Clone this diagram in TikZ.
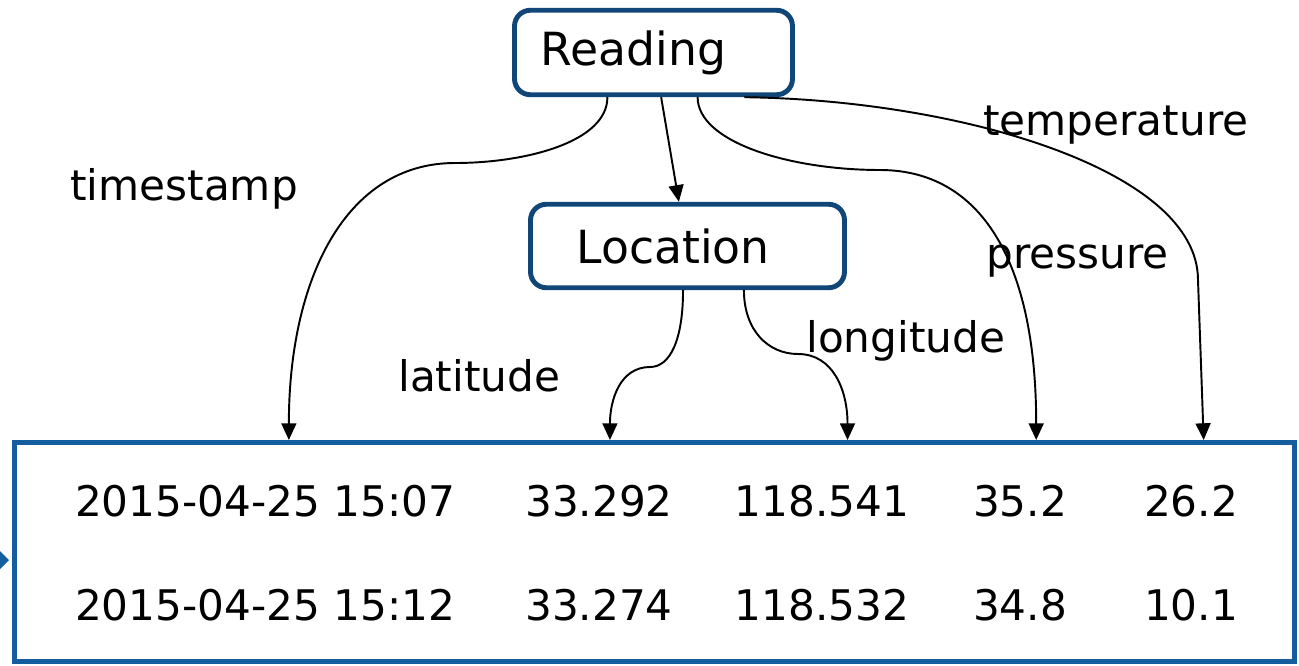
\documentclass[tikz,border=0pt]{standalone}
\usepackage{fontspec}
\setmainfont{DejaVu Sans}
\usetikzlibrary{arrows.meta,calc}
\definecolor{boxblue}{RGB}{16,70,120}
\definecolor{tableblue}{RGB}{20,94,160}
\begin{document}
\begin{tikzpicture}[x=0.02cm,y=-0.02cm,
	entity/.style={draw=boxblue,line width=2.8pt,rounded corners=9pt,align=left,inner ysep=0pt,font=\fontsize{26}{30}\selectfont},
	attr/.style={anchor=base west,inner sep=0pt,font=\fontsize{24}{28}\selectfont},
	val/.style={inner sep=0pt,font=\fontsize{24}{28}\selectfont},
	link/.style={line width=1.1pt,-{Triangle[length=9.5pt,width=8.5pt]}}]
	\useasboundingbox (0,0) rectangle (1299,666);
	% entities
	\node[entity,text width=4.52cm,inner xsep=0.52cm,minimum height=1.69cm] (reading) at (653.5,52.5){Reading};
	\node[entity,text width=4.44cm,inner xsep=0.92cm,minimum height=1.67cm] (location) at (687.5,246){Location};
	\node[draw=tableblue,line width=2.6pt,minimum width=25.6cm,minimum height=4.39cm,inner sep=0] (table) at (654.5,552){};
	\fill[tableblue] (0,551)--(9,560)--(0,569)--cycle;
	% values
	\foreach \x/\a/\b [count=\i] in {265/2015-04-25 15:07/2015-04-25 15:12,599/33.292/33.274,822/118.541/118.532,1020/35.2/34.8,1191/26.2/10.1}{
		\node[val] (a\i) at (\x,501){\a};
		\node[val] (b\i) at (\x,605){\b};
	}
	% attribute names
	\node[attr] (ts) at (70,200){timestamp};
	\node[attr] (lat) at (398,391){latitude};
	\node[attr] (lon) at (806,352){longitude};
	\node[attr] (pr) at (986,268){pressure};
	\node[attr] (tp) at (983,135){temperature};
	% arrow ends
	\coordinate (e1) at ($(table.north west)!0.2153!(table.north east)$);
	\coordinate (e2) at ($(table.north west)!0.4653!(table.north east)$);
	\coordinate (e3) at ($(table.north west)!0.6503!(table.north east)$);
	\coordinate (e4) at ($(table.north west)!0.7972!(table.north east)$);
	\coordinate (e5) at ($(table.north west)!0.9276!(table.north east)$);
	\draw[link] ($(reading.south west)!0.337!(reading.south east)$) .. controls +(0,45) and +(70,0) .. (455,163) .. controls +(-110,0) and +(0,-160) .. (e1);
	\draw[link] ($(reading.south west)!0.527!(reading.south east)$)--($(location.north west)!0.473!(location.north east)$);
	\draw[link] ($(reading.south west)!0.656!(reading.south east)$) .. controls +(0,45) and +(-90,0) .. (880,170) .. controls +(100,0) and +(0,-180) .. (e4);
	\draw[link] ($(reading.south west)!0.821!(reading.south east)$) .. controls (960,100) and (1198,170) .. (1198,280)--(e5);
	\draw[link] ($(location.south west)!0.486!(location.south east)$) .. controls +(0,50) and +(20,0) .. (650,367) .. controls +(-30,0) and +(0,-40) .. (e2);
	\draw[link] ($(location.south west)!0.677!(location.south east)$) .. controls +(0,40) and +(-30,0) .. (798,354) .. controls +(35,0) and +(0,-50) .. (e3);
\end{tikzpicture}
\end{document}
